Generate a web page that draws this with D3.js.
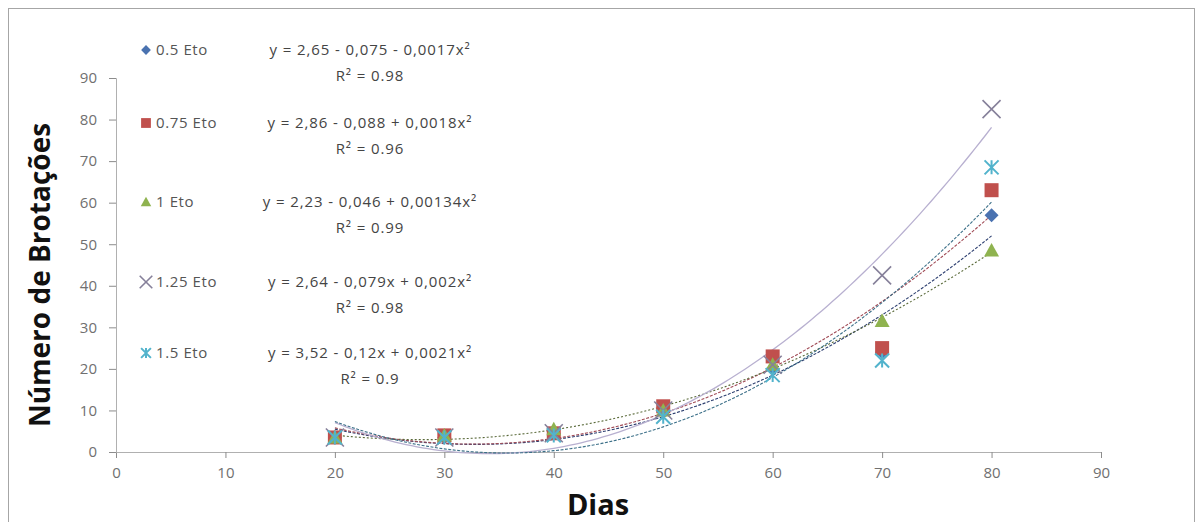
<!DOCTYPE html>
<html>
<head>
<meta charset="utf-8">
<title>Número de Brotações</title>
<script src="https://cdn.jsdelivr.net/npm/d3@7"></script>
<style>
  body { margin: 0; background: #fff; }
  text { font-family: "Open Sans", "DejaVu Sans", sans-serif; }
</style>
</head>
<body>
<script>
// data
var dias = [20, 30, 40, 50, 60, 70, 80];
var eto050 = [3.5, 3.5, 4.5, 10, 20, 24, 57];
var eto075 = [3.5, 4, 4.5, 11, 23, 25, 63];
var eto100 = [3.5, 4, 5.5, 10, 21, 31.5, 48.5];
var eto125 = [3.5, 3.5, 4.5, 10, 21, 42.5, 82.5];
var eto150 = [3.5, 3.5, 4, 8.5, 18.5, 22, 68.5];

var seriesNames = ["0.5 Eto", "0.75 Eto", "1 Eto", "1.25 Eto", "1.5 Eto"];
var equations = [
  "y = 2,65 - 0,075 - 0,0017x\u00b2",
  "y = 2,86 - 0,088 + 0,0018x\u00b2",
  "y = 2,23 - 0,046 + 0,00134x\u00b2",
  "y = 2,64 - 0,079x + 0,002x\u00b2",
  "y = 3,52 - 0,12x + 0,0021x\u00b2"
];
var rSquared = ["R\u00b2 = 0.98", "R\u00b2 = 0.96", "R\u00b2 = 0.99", "R\u00b2 = 0.98", "R\u00b2 = 0.9"];
var xTicks = [0, 10, 20, 30, 40, 50, 60, 70, 80, 90];
var yTicks = [0, 10, 20, 30, 40, 50, 60, 70, 80, 90];

var allSeries = [eto050, eto075, eto100, eto125, eto150];
var colors = ["#4a72b0", "#c0504d", "#8fb34f", "#86809a", "#52b3cc"];
var lineColors = ["#2d3f70", "#a04a55", "#5a6a3a", "#b8b0d0", "#3b6f88"];
var lineDash = ["3,1.5", "3,1.5", "2,2", null, "3,1.5"];

var W = 1203, H = 522;
var x0 = 116, x1 = 1101, yBottom = 452, yTop = 78;

var svg = d3.select("body").append("svg").attr("width", W).attr("height", H);

// outer frame
svg.append("rect").attr("x", 8.5).attr("y", 8.5).attr("width", 1186).attr("height", 530)
  .attr("fill", "none").attr("stroke", "#a6a6a6");

var x = d3.scaleLinear().domain([0, 90]).range([x0, x1]);
var y = d3.scaleLinear().domain([0, 90]).range([yBottom, yTop]);

// axes
var xAxis = d3.axisBottom(x).tickValues(xTicks).tickSize(6).tickPadding(9);
var yAxis = d3.axisLeft(y).tickValues(yTicks).tickSize(7).tickPadding(12);

var gx = svg.append("g").attr("transform", "translate(0," + yBottom + ")").call(xAxis);
var gy = svg.append("g").attr("transform", "translate(" + x0 + ",0)").call(yAxis);
[gx, gy].forEach(function(g) {
  g.select(".domain").attr("stroke", "#b0b0b0");
  g.selectAll(".tick line").attr("stroke", "#8c8c8c");
  g.selectAll(".tick text").attr("fill", "#707070").style("font-size", "15px");
});

// quadratic least squares fit for trend lines
function quadFit(xs, ys) {
  var s = [0, 0, 0, 0, 0], t = [0, 0, 0];
  for (var i = 0; i < xs.length; i++) {
    var p = 1;
    for (var k = 0; k < 5; k++) { s[k] += p; if (k < 3) t[k] += p * ys[i]; p *= xs[i]; }
  }
  var A = [[s[0], s[1], s[2], t[0]], [s[1], s[2], s[3], t[1]], [s[2], s[3], s[4], t[2]]];
  for (var c = 0; c < 3; c++) {
    for (var r = c + 1; r < 3; r++) {
      var f = A[r][c] / A[c][c];
      for (var j = c; j < 4; j++) A[r][j] -= f * A[c][j];
    }
  }
  var b = [0, 0, 0];
  for (var r2 = 2; r2 >= 0; r2--) {
    var v = A[r2][3];
    for (var j2 = r2 + 1; j2 < 3; j2++) v -= A[r2][j2] * b[j2];
    b[r2] = v / A[r2][r2];
  }
  return b;
}

var line = d3.line().x(function(d) { return x(d[0]); }).y(function(d) { return y(d[1]); });
var trend = svg.append("g");
allSeries.forEach(function(vals, si) {
  var b = quadFit(dias, vals);
  var pts = d3.range(20, 80.01, 0.5).map(function(t) { return [t, b[0] + b[1] * t + b[2] * t * t]; });
  trend.append("path").attr("d", line(pts)).attr("fill", "none")
    .attr("stroke", lineColors[si]).attr("stroke-width", si === 3 ? 1.3 : 1.1)
    .attr("stroke-dasharray", lineDash[si]);
});

// marker shapes
function drawMarker(g, si, cx, cy, sc) {
  var c = colors[si];
  sc = sc || 1;
  if (si === 0) {
    var r = 7 * sc;
    g.append("path").attr("d", "M" + cx + "," + (cy - r) + "L" + (cx + r) + "," + cy + "L" + cx + "," + (cy + r) + "L" + (cx - r) + "," + cy + "Z").attr("fill", c);
  } else if (si === 1) {
    var h = 7 * sc;
    g.append("rect").attr("x", cx - h).attr("y", cy - h).attr("width", 2 * h).attr("height", 2 * h).attr("fill", c);
  } else if (si === 2) {
    var t = 7.5 * sc;
    g.append("path").attr("d", "M" + cx + "," + (cy - t) + "L" + (cx + t) + "," + (cy + t * 0.8) + "L" + (cx - t) + "," + (cy + t * 0.8) + "Z").attr("fill", c);
  } else if (si === 3) {
    var q = 9 * sc;
    g.append("path").attr("d", "M" + (cx - q) + "," + (cy - q) + "L" + (cx + q) + "," + (cy + q) + "M" + (cx - q) + "," + (cy + q) + "L" + (cx + q) + "," + (cy - q))
      .attr("stroke", c).attr("stroke-width", 1.6).attr("fill", "none");
  } else {
    var a = 7 * sc;
    g.append("path").attr("d", "M" + (cx - a) + "," + (cy - a) + "L" + (cx + a) + "," + (cy + a) + "M" + (cx - a) + "," + (cy + a) + "L" + (cx + a) + "," + (cy - a) + "M" + cx + "," + (cy - a) + "L" + cx + "," + (cy + a))
      .attr("stroke", c).attr("stroke-width", 2).attr("fill", "none");
  }
}

var marks = svg.append("g");
allSeries.forEach(function(vals, si) {
  var g = marks.append("g");
  vals.forEach(function(v, i) { drawMarker(g, si, x(dias[i]), y(v)); });
});

// legend with equations
var rowY = [50, 123, 202, 282, 353];
var leg = svg.append("g");
seriesNames.forEach(function(name, si) {
  var ry = rowY[si];
  var g = leg.append("g");
  drawMarker(g, si, 146, ry, 0.7);
  g.append("text").attr("x", 156).attr("y", ry + 5).attr("fill", "#555")
    .style("font-size", "15px").style("letter-spacing", "0.6px").text(name);
  g.append("text").attr("x", 370).attr("y", ry + 5).attr("text-anchor", "middle")
    .attr("fill", "#444").style("font-size", "15px").style("letter-spacing", "0.9px").text(equations[si]);
  g.append("text").attr("x", 370).attr("y", ry + 31).attr("text-anchor", "middle")
    .attr("fill", "#444").style("font-size", "15px").style("letter-spacing", "0.9px").text(rSquared[si]);
});

// axis titles
svg.append("text").attr("transform", "translate(50,275) rotate(-90)")
  .attr("text-anchor", "middle").attr("fill", "#111")
  .style("font-size", "28px").style("font-weight", "bold").text("Número de Brotações");
svg.append("text").attr("x", 598).attr("y", 515).attr("text-anchor", "middle")
  .attr("fill", "#111").style("font-size", "29px").style("font-weight", "bold").text("Dias");
</script>
</body>
</html>
